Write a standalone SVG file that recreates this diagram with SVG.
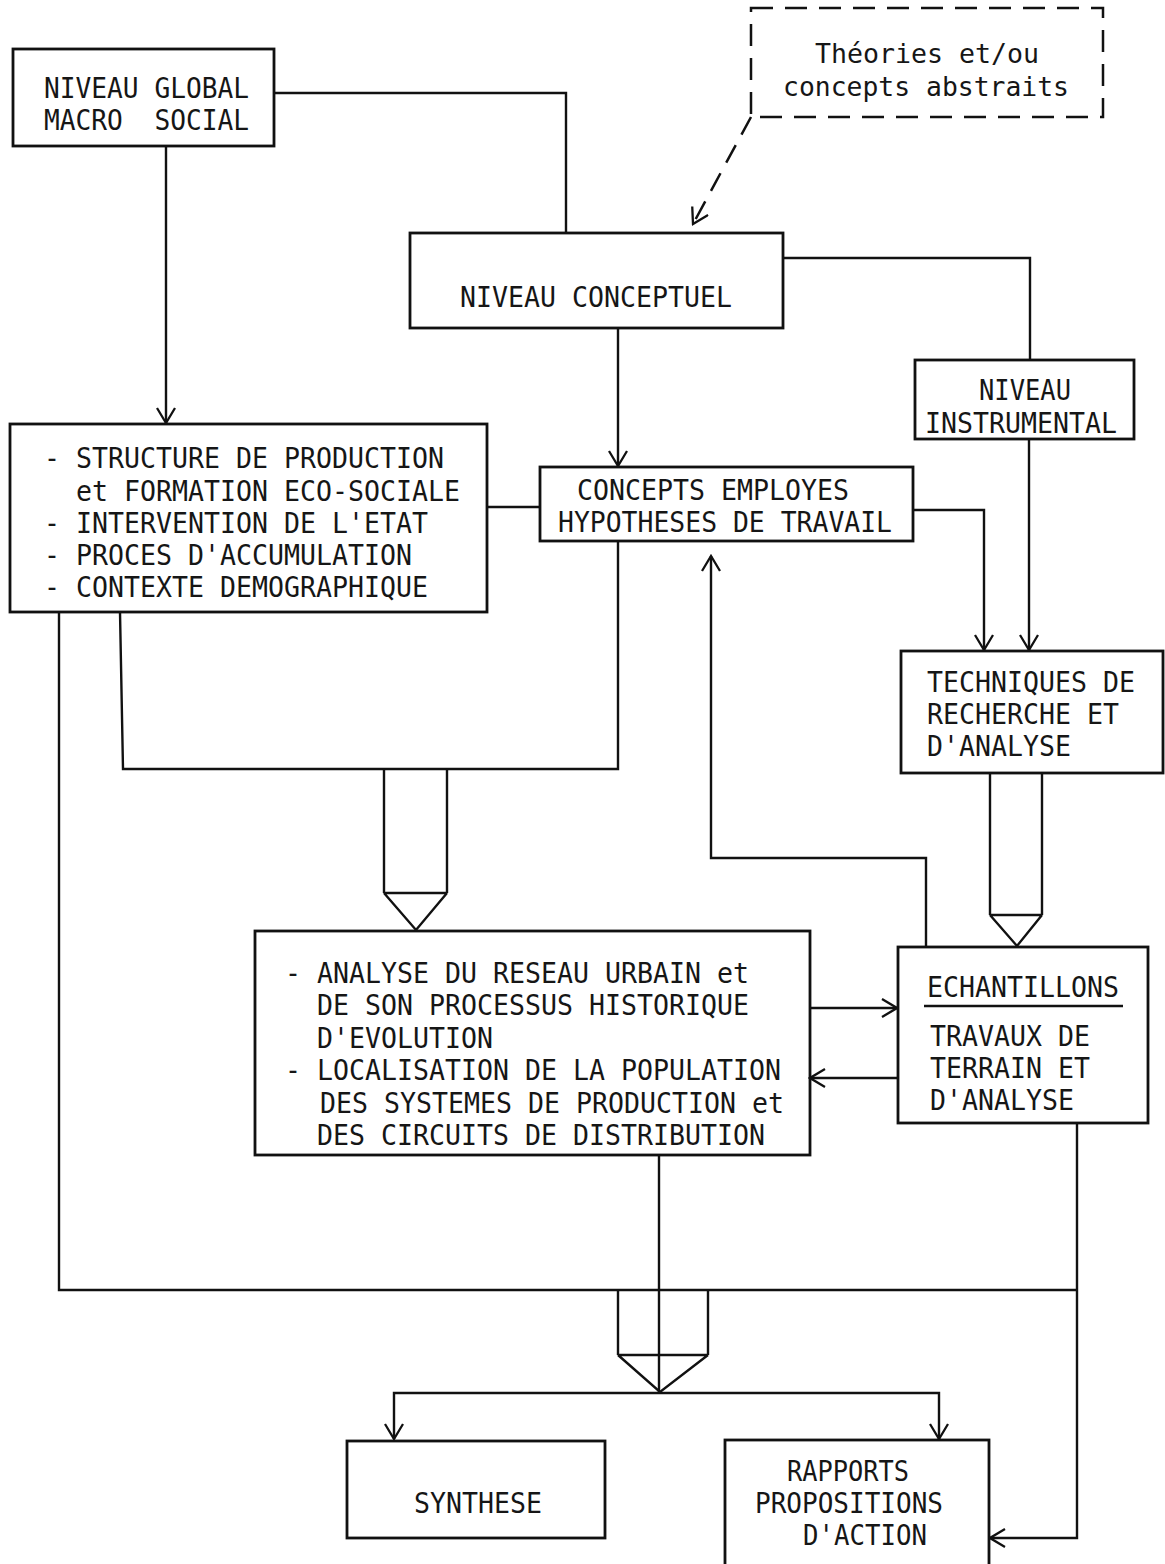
<svg xmlns="http://www.w3.org/2000/svg" width="1165" height="1564" viewBox="0 0 1165 1564">
<style>
.box{fill:none;stroke:#111;stroke-width:2.8}
.dbox{fill:none;stroke:#111;stroke-width:2.5;stroke-dasharray:22 12}
.ln{fill:none;stroke:#111;stroke-width:2.4}
.dl{fill:none;stroke:#111;stroke-width:2.5;stroke-dasharray:20 12}
.t{font-family:"DejaVu Sans Mono","Liberation Mono",monospace;font-size:29px;fill:#161616}
.tl{font-family:"DejaVu Sans Mono","Liberation Mono",monospace;font-size:27px;fill:#161616}
</style>
<defs>
<marker id="arr" viewBox="0 0 20 20" refX="18" refY="10" markerWidth="20" markerHeight="20" orient="auto" markerUnits="userSpaceOnUse">
<path d="M3,1 L18,10 L3,19" fill="none" stroke="#111" stroke-width="2.3"/>
</marker>
</defs>
<rect width="1165" height="1564" fill="#fff"/>

<g id="connectors">
<polyline class="ln" points="274,93 566,93 566,233"/>
<line class="ln" x1="166" y1="146" x2="166" y2="423" marker-end="url(#arr)"/>
<line class="dl" x1="751" y1="117" x2="693" y2="224" marker-end="url(#arr)"/>
<polyline class="ln" points="783,258 1030,258 1030,360"/>
<line class="ln" x1="618" y1="328" x2="618" y2="466" marker-end="url(#arr)"/>
<line class="ln" x1="1029" y1="439" x2="1029" y2="650" marker-end="url(#arr)"/>
<polyline class="ln" points="913,510 984,510 984,650" marker-end="url(#arr)"/>
<line class="ln" x1="487" y1="507" x2="540" y2="507"/>
<polyline class="ln" points="120,612 123,769 618,769 618,541"/>
<path class="ln" d="M384,769 V893 M447,769 V893 M384,893 H447 M384,893 L416,930 L447,893"/>
<path class="ln" d="M990,773 V915 M1042,773 V915 M990,915 H1042 M990,915 L1017,946 L1042,915"/>
<polyline class="ln" points="926,946 926,858 711,858 711,556" marker-end="url(#arr)"/>
<line class="ln" x1="810" y1="1008" x2="897" y2="1008" marker-end="url(#arr)"/>
<line class="ln" x1="898" y1="1078" x2="810" y2="1078" marker-end="url(#arr)"/>
<polyline class="ln" points="59,612 59,1290 1077,1290"/>
<polyline class="ln" points="1077,1123 1077,1538 990,1538" marker-end="url(#arr)"/>
<line class="ln" x1="659" y1="1155" x2="659" y2="1392"/>
<path class="ln" d="M618,1290 V1355 M708,1290 V1355 M618,1355 H708 M618,1355 L660,1392 L708,1355"/>
<polyline class="ln" points="659,1393 394,1393 394,1439" marker-end="url(#arr)"/>
<polyline class="ln" points="659,1393 939,1393 939,1439" marker-end="url(#arr)"/>
</g>

<g id="global">
<rect class="box" x="13" y="49" width="261" height="97"/>
<text class="t" x="44" y="98" textLength="205" lengthAdjust="spacingAndGlyphs">NIVEAU GLOBAL</text>
<text class="t" x="44" y="130" textLength="205" lengthAdjust="spacingAndGlyphs">MACRO&#160;&#160;SOCIAL</text>
</g>

<g id="theories">
<rect class="dbox" x="751" y="8" width="352" height="109"/>
<text class="tl" x="815" y="63" textLength="224" lengthAdjust="spacingAndGlyphs">Théories et/ou</text>
<text class="tl" x="783" y="96" textLength="286" lengthAdjust="spacingAndGlyphs">concepts abstraits</text>
</g>

<g id="conceptuel">
<rect class="box" x="410" y="233" width="373" height="95"/>
<text class="t" x="460" y="307" textLength="272" lengthAdjust="spacingAndGlyphs">NIVEAU CONCEPTUEL</text>
</g>

<g id="instrumental">
<rect class="box" x="915" y="360" width="219" height="79"/>
<text class="t" x="979" y="400" textLength="92" lengthAdjust="spacingAndGlyphs">NIVEAU</text>
<text class="t" x="925" y="433" textLength="192" lengthAdjust="spacingAndGlyphs">INSTRUMENTAL</text>
</g>

<g id="structure">
<rect class="box" x="10" y="424" width="477" height="188"/>
<text class="t" x="44" y="468" textLength="400" lengthAdjust="spacingAndGlyphs">- STRUCTURE DE PRODUCTION</text>
<text class="t" x="76" y="501" textLength="384" lengthAdjust="spacingAndGlyphs">et FORMATION ECO-SOCIALE</text>
<text class="t" x="44" y="533" textLength="384" lengthAdjust="spacingAndGlyphs">- INTERVENTION DE L'ETAT</text>
<text class="t" x="44" y="565" textLength="368" lengthAdjust="spacingAndGlyphs">- PROCES D'ACCUMULATION</text>
<text class="t" x="44" y="597" textLength="384" lengthAdjust="spacingAndGlyphs">- CONTEXTE DEMOGRAPHIQUE</text>
</g>

<g id="concepts">
<rect class="box" x="540" y="467" width="373" height="74"/>
<text class="t" x="577" y="500" textLength="272" lengthAdjust="spacingAndGlyphs">CONCEPTS EMPLOYES</text>
<text class="t" x="558" y="532" textLength="334" lengthAdjust="spacingAndGlyphs">HYPOTHESES DE TRAVAIL</text>
</g>

<g id="techniques">
<rect class="box" x="901" y="651" width="262" height="122"/>
<text class="t" x="927" y="692" textLength="208" lengthAdjust="spacingAndGlyphs">TECHNIQUES DE</text>
<text class="t" x="927" y="724" textLength="192" lengthAdjust="spacingAndGlyphs">RECHERCHE ET</text>
<text class="t" x="927" y="756" textLength="144" lengthAdjust="spacingAndGlyphs">D'ANALYSE</text>
</g>

<g id="analyse">
<rect class="box" x="255" y="931" width="555" height="224"/>
<text class="t" x="285" y="983" textLength="464" lengthAdjust="spacingAndGlyphs">- ANALYSE DU RESEAU URBAIN et</text>
<text class="t" x="317" y="1015" textLength="432" lengthAdjust="spacingAndGlyphs">DE SON PROCESSUS HISTORIQUE</text>
<text class="t" x="317" y="1048" textLength="176" lengthAdjust="spacingAndGlyphs">D'EVOLUTION</text>
<text class="t" x="285" y="1080" textLength="496" lengthAdjust="spacingAndGlyphs">- LOCALISATION DE LA POPULATION</text>
<text class="t" x="320" y="1113" textLength="464" lengthAdjust="spacingAndGlyphs">DES SYSTEMES DE PRODUCTION et</text>
<text class="t" x="317" y="1145" textLength="448" lengthAdjust="spacingAndGlyphs">DES CIRCUITS DE DISTRIBUTION</text>
</g>

<g id="echantillons">
<rect class="box" x="898" y="947" width="250" height="176"/>
<text class="t" x="927" y="997" textLength="192" lengthAdjust="spacingAndGlyphs">ECHANTILLONS</text>
<line class="ln" x1="924" y1="1006" x2="1123" y2="1006" stroke-width="2.6"/>
<text class="t" x="930" y="1046" textLength="160" lengthAdjust="spacingAndGlyphs">TRAVAUX DE</text>
<text class="t" x="930" y="1078" textLength="160" lengthAdjust="spacingAndGlyphs">TERRAIN ET</text>
<text class="t" x="930" y="1110" textLength="144" lengthAdjust="spacingAndGlyphs">D'ANALYSE</text>
</g>

<g id="synthese">
<rect class="box" x="347" y="1441" width="258" height="97"/>
<text class="t" x="414" y="1513" textLength="128" lengthAdjust="spacingAndGlyphs">SYNTHESE</text>
</g>

<g id="rapports">
<rect class="box" x="725" y="1440" width="264" height="130"/>
<text class="t" x="787" y="1481" textLength="122" lengthAdjust="spacingAndGlyphs">RAPPORTS</text>
<text class="t" x="755" y="1513" textLength="188" lengthAdjust="spacingAndGlyphs">PROPOSITIONS</text>
<text class="t" x="803" y="1545" textLength="124" lengthAdjust="spacingAndGlyphs">D'ACTION</text>
</g>
</svg>
